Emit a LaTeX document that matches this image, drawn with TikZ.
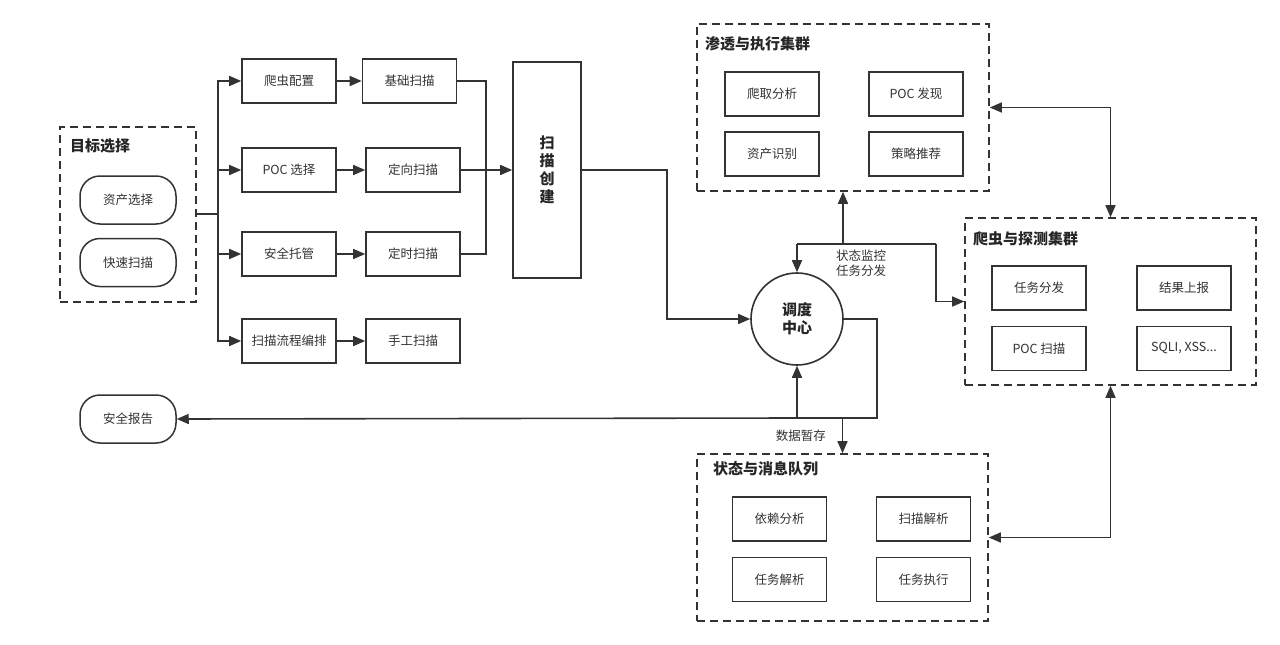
\documentclass[tikz,border=0pt]{standalone}
\usepackage{fontspec}
\setmainfont{Noto Sans CJK SC}
\usetikzlibrary{arrows.meta}
\definecolor{lc}{HTML}{333333}
\definecolor{tc}{HTML}{333333}
\tikzset{
  every node/.style={font=\fontsize{12.5}{15}\selectfont, text=tc, inner sep=0pt},
  box/.style={draw=lc, line width=1.6pt, rectangle, minimum height=44pt, minimum width=94pt},
  pill/.style={draw=lc, line width=1.5pt, rectangle, rounded corners=20pt, minimum width=96pt, minimum height=48pt},
  grp/.style={draw=lc, line width=1.6pt, dash pattern=on 8pt off 5pt},
  gtitle/.style={font=\fontsize{15}{18}\bfseries\selectfont, text=black!85, anchor=west},
  ln/.style={draw=lc, line width=1.6pt},
  arr/.style={ln, -{Triangle[length=12pt,width=10pt]}},
  darr/.style={ln, {Triangle[length=12pt,width=10pt]}-{Triangle[length=12pt,width=10pt]}},
}
\begin{document}
\begin{tikzpicture}[x=1pt,y=-1pt]
\useasboundingbox (0,0) rectangle (1280,645);
\fill[white] (0,0) rectangle (1280,645);

% target selection group
\node[grp, minimum width=136pt, minimum height=175pt] (tgt) at (128,214.5) {};
\node[gtitle] (tgtT) at (70,146) {目标选择};
\node[pill] (asel) at (128,200) {资产选择};
\node[pill] (fast) at (128,262.5) {快速扫描};

% column 1
\node[box] (b11) at (289,81) {爬虫配置};
\node[box] (b21) at (289,170) {POC 选择};
\node[box] (b31) at (289,254) {安全托管};
\node[box] (b41) at (289,341) {扫描流程编排};
% column 2
\node[box] (b12) at (409.5,81) {基础扫描};
\node[box] (b22) at (413,170) {定向扫描};
\node[box] (b32) at (413,254) {定时扫描};
\node[box] (b42) at (413,341) {手工扫描};

% scan creation
\node[box, minimum width=68pt, minimum height=216pt, align=center,
      font=\fontsize{15}{18}\bfseries\selectfont, text=black!85] (scan) at (547,170) {扫\\描\\创\\建};

% hub
\node[draw=lc, line width=1.6pt, circle, minimum size=92pt, align=center,
      font=\fontsize{15}{18}\bfseries\selectfont, text=black!85] (hub) at (797,319) {调度\\中心};

% top group
\node[grp, minimum width=292pt, minimum height=167pt] (top) at (843,107.5) {};
\node[gtitle] (topT) at (705,44) {渗透与执行集群};
\node[box] (p1) at (772,94) {爬取分析};
\node[box] (p2) at (916,94) {POC 发现};
\node[box] (p3) at (772,154) {资产识别};
\node[box] (p4) at (916,154) {策略推荐};

% right group
\node[grp, minimum width=291pt, minimum height=167pt] (right) at (1110.5,301.5) {};
\node[gtitle] (rightT) at (973,239) {爬虫与探测集群};
\node[box] (r1) at (1039,288) {任务分发};
\node[box] (r2) at (1184,288) {结果上报};
\node[box] (r3) at (1039,348.5) {POC 扫描};
\node[box] (r4) at (1184,348.5) {SQLI, XSS...};

% bottom group
\node[grp, minimum width=291pt, minimum height=167pt] (bot) at (842.5,537.5) {};
\node[gtitle] (botT) at (713,469) {状态与消息队列};
\node[box] (q1) at (779.5,519) {依赖分析};
\node[box] (q2) at (923.5,519) {扫描解析};
\node[box] (q3) at (779.5,579.5) {任务解析};
\node[box] (q4) at (923.5,579.5) {任务执行};

% report
\node[pill] (rep) at (128,419) {安全报告};

% coordinates
\coordinate (j1) at (218,214);
\coordinate (j2) at (486,170);
\coordinate (k1) at (667,319);
\coordinate (t1) at (797,244);
\coordinate (t2) at (843,244);
\coordinate (t3) at (936,244);
\coordinate (u1) at (877,418);
\coordinate (u2) at (842.5,418);
\coordinate (u3) at (797,418);

% left connectors
\draw[ln] (tgt.east |- j1) -- (j1);
\draw[arr] (j1) |- (b11.west);
\draw[arr] (j1) |- (b21.west);
\draw[arr] (j1) |- (b31.west);
\draw[arr] (j1) |- (b41.west);
\draw[arr] (b11) -- (b12);
\draw[arr] (b21) -- (b22);
\draw[arr] (b31) -- (b32);
\draw[arr] (b41) -- (b42);
\draw[ln] (b12.east) -| (j2);
\draw[ln] (b32.east) -| (j2);
\draw[arr] (b22.east) -- (scan.west);
\draw[arr] (scan.east) -| (k1) -- (hub.west);

% top bus
\draw[ln] (t1) -- (t3);
\draw[arr] (t1) -- (hub.north);
\draw[arr] (t2) -- (top.south);
\draw[arr] (t3) |- (right.west);
\node[anchor=west, align=left] (lab1) at (836,263) {状态监控\\任务分发};

% cluster links
\draw[darr] (top.east) -| (right.north);
\draw[darr] (bot.east) -| (right.south);

% bottom bus
\draw[ln] (hub.east) -| (u1) -- (u3);
\draw[arr] (u3) -- (hub.south);
\draw[arr] (u3) -- (rep.east);
\draw[arr] (u2) -- (bot.north);
\node[anchor=east] (lab2) at (826,436) {数据暂存};
\end{tikzpicture}
\end{document}
